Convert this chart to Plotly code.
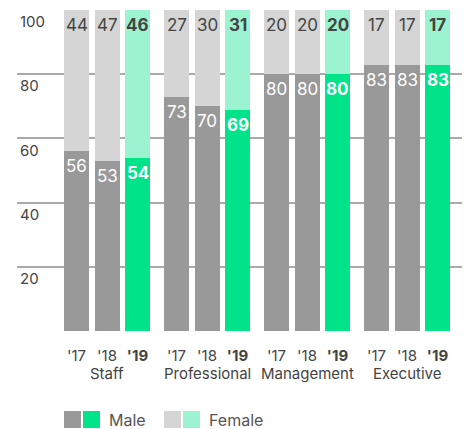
import plotly.graph_objects as go

# dati
groups = ["Staff", "Professional", "Management", "Executive"]
years = ["'17", "'18", "'19"]
male = [[56, 53, 54], [73, 70, 69], [80, 80, 80], [83, 83, 83]]
female = [[44, 47, 46], [27, 30, 31], [20, 20, 20], [17, 17, 17]]
y_ticks = [0, 20, 40, 60, 80, 100]

GRAY_M, GREEN_M = "#999999", "#00e388"
GRAY_F, GREEN_F = "#d5d5d5", "#9cf3d0"
FONT = "Inter"
step = 0.305

xs, m_vals, f_vals, m_col, f_col, tick_text = [], [], [], [], [], []
for g in range(len(groups)):
    for j, yr in enumerate(years):
        xs.append(g + (j - 1) * step)
        m_vals.append(male[g][j])
        f_vals.append(female[g][j])
        last = j == len(years) - 1
        m_col.append(GREEN_M if last else GRAY_M)
        f_col.append(GREEN_F if last else GRAY_F)
        tick_text.append(f"<b>{yr}</b>" if last else yr)

fig = go.Figure()
fig.add_trace(go.Bar(x=xs, y=m_vals, width=0.25, marker=dict(color=m_col, line_width=0),
                     hoverinfo="skip"))
fig.add_trace(go.Bar(x=xs, y=f_vals, width=0.25, marker=dict(color=f_col, line_width=0),
                     hoverinfo="skip"))

# etichette dei valori
annotations = []
for i, x in enumerate(xs):
    last = i % 3 == 2
    for val, top, col in [(m_vals[i], m_vals[i], "white"), (f_vals[i], m_vals[i] + f_vals[i], "#444444")]:
        annotations.append(dict(
            x=x, y=top, xref="x", yref="y", yanchor="top", yshift=-3, showarrow=False,
            text=f"<b>{val}</b>" if last else str(val),
            font=dict(family=FONT, size=17, color=col),
        ))

# nomi dei gruppi
for g, name in enumerate(groups):
    annotations.append(dict(x=g, y=0, xref="x", yref="paper", yanchor="top", yshift=-31,
                            showarrow=False, text=name,
                            font=dict(family=FONT, size=15, color="#444444")))

# legenda manuale
shapes = []
legend = [([GRAY_M, GREEN_M], "Male", 64), ([GRAY_F, GREEN_F], "Female", 164)]
for cols, label, x0 in legend:
    for k, c in enumerate(cols):
        shapes.append(dict(type="rect", xref="paper", yref="paper",
                           x0=(x0 - 17 + k * 19) / 445, x1=(x0 - 17 + k * 19 + 17) / 445,
                           y0=-(411 - 331) / 321, y1=-(428 - 331) / 321,
                           fillcolor=c, line_width=0))
    annotations.append(dict(x=(x0 - 17 + 43) / 445, y=-(419.5 - 331) / 321, xref="paper", yref="paper",
                            xanchor="left", yanchor="middle", showarrow=False, text=label,
                            font=dict(family=FONT, size=16, color="#555555")))

fig.update_layout(
    width=464, height=429,
    margin=dict(l=17, r=2, t=10, b=98),
    barmode="stack",
    bargap=0,
    plot_bgcolor="white", paper_bgcolor="white",
    showlegend=False,
    font=dict(family=FONT, color="#444444"),
    annotations=annotations,
    shapes=shapes,
)
fig.update_xaxes(range=[-0.9, 3.55], tickvals=xs, ticktext=tick_text, showgrid=False,
                 zeroline=False, ticks="", ticklabelstandoff=14, automargin=False,
                 tickfont=dict(family=FONT, size=15, color="#444444"), fixedrange=True)
fig.update_yaxes(range=[0, 100], tickvals=y_ticks, ticktext=["" if v == 0 else str(v) for v in y_ticks],
                 showgrid=True, gridcolor="#aaaaaa", gridwidth=1.5, zeroline=False, automargin=False,
                 ticklabelposition="inside", ticklabelshift=12, ticklabelstandoff=0,
                 tickfont=dict(family=FONT, size=15, color="#444444"), fixedrange=True)

fig.write_html("out.html", config={"displayModeBar": False},
               post_script="document.body.style.margin='0';")
